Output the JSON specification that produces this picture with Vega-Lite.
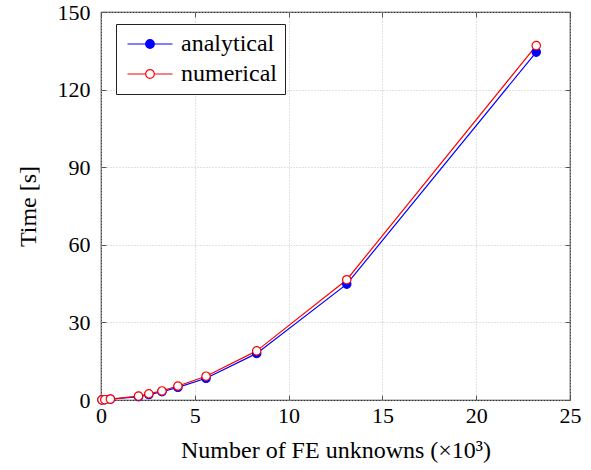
{
  "$schema": "https://vega.github.io/schema/vega-lite/v6.json",
  "width": 469,
  "height": 388,
  "autosize": {"type": "none"},
  "padding": {"left": 101, "top": 12, "right": 21, "bottom": 70},
  "background": "white",
  "config": {
    "font": "Liberation Serif",
    "view": {"stroke": "#333333", "strokeWidth": 1.2},
    "axis": {
      "labelFont": "Liberation Serif",
      "titleFont": "Liberation Serif",
      "labelFontSize": 22,
      "titleFontSize": 24,
      "labelColor": "black",
      "titleColor": "black",
      "titleFontWeight": "normal",
      "domain": false,
      "tickColor": "#555555",
      "tickSize": -5,
      "tickWidth": 1,
      "gridColor": "#c4c4c4",
      "gridDash": [1, 2],
      "gridWidth": 1
    },
    "legend": {
      "labelFont": "Liberation Serif",
      "labelFontSize": 24,
      "labelColor": "black"
    }
  },
  "data": {
    "values": [
      {"n": 0.05, "t": 0.05, "series": "analytical"},
      {"n": 0.2, "t": 0.1, "series": "analytical"},
      {"n": 0.5, "t": 0.3, "series": "analytical"},
      {"n": 2.0, "t": 1.3, "series": "analytical"},
      {"n": 2.55, "t": 2.1, "series": "analytical"},
      {"n": 3.25, "t": 3.2, "series": "analytical"},
      {"n": 4.1, "t": 4.9, "series": "analytical"},
      {"n": 5.6, "t": 8.4, "series": "analytical"},
      {"n": 8.3, "t": 18.0, "series": "analytical"},
      {"n": 13.1, "t": 44.8, "series": "analytical"},
      {"n": 23.2, "t": 134.5, "series": "analytical"},
      {"n": 0.05, "t": 0.06, "series": "numerical"},
      {"n": 0.2, "t": 0.12, "series": "numerical"},
      {"n": 0.5, "t": 0.35, "series": "numerical"},
      {"n": 2.0, "t": 1.5, "series": "numerical"},
      {"n": 2.55, "t": 2.4, "series": "numerical"},
      {"n": 3.25, "t": 3.5, "series": "numerical"},
      {"n": 4.1, "t": 5.4, "series": "numerical"},
      {"n": 5.6, "t": 9.2, "series": "numerical"},
      {"n": 8.3, "t": 19.0, "series": "numerical"},
      {"n": 13.1, "t": 46.5, "series": "numerical"},
      {"n": 23.2, "t": 137.0, "series": "numerical"}
    ]
  },
  "layer": [
    {
      "mark": {"type": "line", "strokeWidth": 1.2},
      "encoding": {
        "x": {
          "field": "n", "type": "quantitative",
          "scale": {"domain": [0, 25], "nice": false, "zero": false},
          "axis": {"orient": "bottom", "values": [0, 5, 10, 15, 20, 25], "title": "Number of FE unknowns (×10³)", "labelPadding": 10, "titlePadding": 12, "grid": true, "labelFlush": false}
        },
        "y": {
          "field": "t", "type": "quantitative",
          "scale": {"domain": [0, 150], "nice": false, "zero": false},
          "axis": {"orient": "left", "values": [0, 30, 60, 90, 120, 150], "title": "Time [s]", "labelPadding": 16, "titlePadding": 17, "grid": true, "labelFlush": false}
        },
        "stroke": {
          "field": "series", "type": "nominal",
          "scale": {"domain": ["analytical", "numerical"], "range": ["#0000ff", "#ff0000"]},
          "legend": {
            "title": null,
            "orient": "none",
            "legendX": 15,
            "legendY": 12,
            "strokeColor": "#222222",
            "fillColor": "white",
            "padding": 8,
            "labelFont": "Liberation Serif",
            "labelFontSize": 24,
            "symbolType": "M-2.5,0H-0.48M0.48,0H2.5M-0.48,0A0.48,0.48 0 1,1 0.48,0A0.48,0.48 0 1,1 -0.48,0Z",
            "symbolSize": 324,
            "symbolStrokeWidth": 1.2,
            "symbolOffset": 14,
            "labelOffset": 19,
            "rowPadding": 6
          }
        }
      }
    },
    {
      "mark": {"type": "point", "filled": true, "size": 70, "strokeWidth": 1.2, "opacity": 1},
      "encoding": {
        "x": {"field": "n", "type": "quantitative", "axis": null},
        "y": {"field": "t", "type": "quantitative", "axis": null},
        "stroke": {"field": "series", "type": "nominal"},
        "fill": {
          "field": "series", "type": "nominal",
          "scale": {"domain": ["analytical", "numerical"], "range": ["#0000ff", "#ffffff"]}
        }
      }
    },
    {
      "mark": {"type": "point", "opacity": 0},
      "encoding": {
        "x": {"field": "n", "type": "quantitative", "axis": {"orient": "top", "values": [0, 5, 10, 15, 20, 25], "labels": false, "title": null, "grid": false}},
        "y": {"field": "t", "type": "quantitative", "axis": {"orient": "right", "values": [0, 30, 60, 90, 120, 150], "labels": false, "title": null, "grid": false}}
      }
    }
  ],
  "resolve": {"axis": {"x": "independent", "y": "independent"}}
}
